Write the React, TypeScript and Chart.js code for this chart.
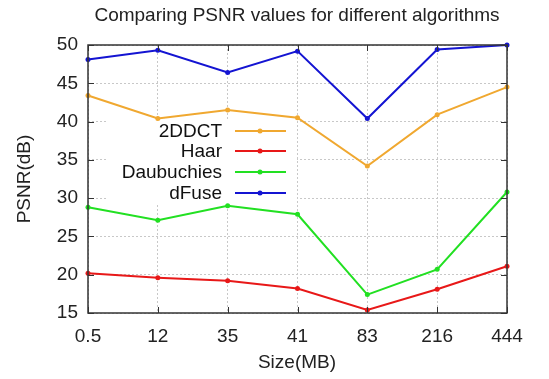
import React, { useEffect, useRef } from "react";
import { Chart, registerables } from "chart.js";

Chart.register(...registerables);

const sizes = ["0.5", "12", "35", "41", "83", "216", "444"];
const ddct = [43.4, 40.4, 41.5, 40.5, 34.2, 40.9, 44.5];
const haar = [20.2, 19.6, 19.2, 18.2, 15.4, 18.1, 21.1];
const daub = [28.8, 27.1, 29.0, 27.9, 17.4, 20.7, 30.8];
const dfuse = [48.1, 49.3, 46.4, 49.2, 40.4, 49.4, 50.0];

const seriesNames = ["2DDCT", "Haar", "Daubuchies", "dFuse"];
const seriesColors = ["#f0a830", "#e81818", "#22e022", "#1414d2"];
const seriesData = [ddct, haar, daub, dfuse];

const FONT = "'Liberation Sans', Arial, sans-serif";

const legendBox = {
  id: "legendBox",
  beforeDatasetsDraw(chart: any) {
    const { ctx } = chart;
    ctx.save();
    ctx.fillStyle = "#ffffff";
    ctx.fillRect(106, 121, 191, 83);
    ctx.restore();
  },
};

const decor = {
  id: "decor",
  afterDraw(chart: any) {
    const { ctx, chartArea, scales } = chart;
    const { left, top, right, bottom } = chartArea;
    const x = scales.x;
    const y = scales.y;
    ctx.save();
    // inward tick marks
    ctx.strokeStyle = "#333";
    ctx.lineWidth = 1;
    ctx.beginPath();
    for (let v = 15; v <= 50; v += 5) {
      const py = Math.round(y.getPixelForValue(v)) + 0.5;
      ctx.moveTo(left, py);
      ctx.lineTo(left + 6, py);
      ctx.moveTo(right, py);
      ctx.lineTo(right - 6, py);
    }
    for (let i = 0; i < sizes.length; i++) {
      const px = Math.round(x.getPixelForValue(i)) + 0.5;
      ctx.moveTo(px, bottom);
      ctx.lineTo(px, bottom - 6);
      ctx.moveTo(px, top);
      ctx.lineTo(px, top + 6);
    }
    ctx.stroke();
    // frame
    ctx.lineWidth = 1.5;
    ctx.strokeStyle = "#333";
    ctx.strokeRect(left, top, right - left, bottom - top);

    // titles
    ctx.fillStyle = "#222";
    ctx.textAlign = "center";
    ctx.textBaseline = "middle";
    ctx.font = `19px ${FONT}`;
    ctx.fillText("Comparing PSNR values for different algorithms", 297, 16);
    ctx.fillText("Size(MB)", 297, 363);
    ctx.save();
    ctx.translate(25, (top + bottom) / 2);
    ctx.rotate(-Math.PI / 2);
    ctx.fillText("PSNR(dB)", 0, 0);
    ctx.restore();

    // legend
    ctx.font = `19px ${FONT}`;
    ctx.textAlign = "right";
    const rows = [131, 151, 172, 193];
    for (let i = 0; i < seriesNames.length; i++) {
      const ry = rows[i];
      ctx.fillStyle = "#111";
      ctx.fillText(seriesNames[i], 222, ry + 1);
      ctx.strokeStyle = seriesColors[i];
      ctx.lineWidth = 2;
      ctx.beginPath();
      ctx.moveTo(235, ry);
      ctx.lineTo(286, ry);
      ctx.stroke();
      ctx.fillStyle = seriesColors[i];
      ctx.beginPath();
      ctx.arc(260, ry, 2.5, 0, Math.PI * 2);
      ctx.fill();
    }
    ctx.restore();
  },
};

export default function App() {
  const ref = useRef<HTMLCanvasElement | null>(null);
  useEffect(() => {
    if (!ref.current) return;
    const chart = new Chart(ref.current, {
      type: "line",
      data: {
        labels: sizes,
        datasets: seriesData.map((d, i) => ({
          label: seriesNames[i],
          data: d,
          borderColor: seriesColors[i],
          backgroundColor: seriesColors[i],
          borderWidth: 2,
          pointRadius: 2.5,
          pointBorderWidth: 0,
          tension: 0,
          clip: false as any,
        })),
      },
      options: {
        responsive: false,
        animation: false,
        devicePixelRatio: 1,
        layout: { padding: { top: 45, right: 42, left: 0, bottom: 0 } },
        plugins: {
          legend: { display: false },
          title: { display: false },
          tooltip: { enabled: false },
        },
        scales: {
          x: {
            type: "category",
            offset: false,
            grid: {
              color: "#c8c8c8",
              lineWidth: 1,
              drawTicks: false,
            },
            border: { display: false, dash: [2, 2] } as any,
            ticks: {
              color: "#222",
              font: { family: FONT, size: 19 },
              padding: 12,
              maxRotation: 0,
              autoSkip: false,
            },
            afterFit(scale: any) {
              scale.height = 66;
            },
          },
          y: {
            min: 15,
            max: 50,
            grid: {
              color: "#c8c8c8",
              lineWidth: 1,
              drawTicks: false,
            },
            border: { display: false, dash: [2, 2] } as any,
            ticks: {
              stepSize: 5,
              color: "#222",
              font: { family: FONT, size: 19 },
              padding: 10,
            },
            afterFit(scale: any) {
              scale.width = 88;
            },
          },
        },
      },
      plugins: [legendBox, decor],
    });
    return () => chart.destroy();
  }, []);
  return (
    <div style={{ position: "fixed", left: 0, top: 0, width: 549, height: 379, background: "#fff" }}>
      <canvas ref={ref} width={549} height={379} style={{ display: "block" }} />
    </div>
  );
}
